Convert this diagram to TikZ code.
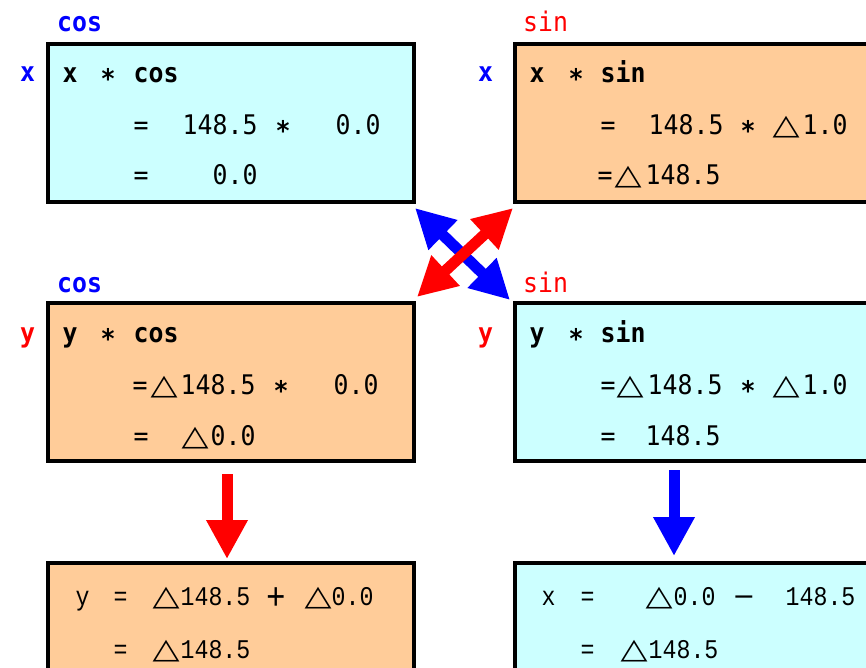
\documentclass[tikz,border=0pt]{standalone}
\usepackage{fontspec}
\usetikzlibrary{arrows.meta}
\newfontfamily\gfont[FakeStretch=0.92]{DejaVu Sans Mono}
\newfontfamily\lfont[FakeStretch=0.86]{Liberation Mono}
\newfontfamily\symfont{DejaVu Sans}
\definecolor{boxcyan}{HTML}{CCFFFF}
\definecolor{boxorange}{HTML}{FFCC99}
\newcommand\tk[2]{\rlap{\hspace*{#1pt}#2}}
\newcommand\tri{\scalebox{1.3}[1.05]{\symfont\bfseries △}}
\newcommand\trib{\scalebox{1.3}[1.05]{\symfont △}}
\newcommand\myast{\raisebox{-6pt}{\bfseries *}}
\newcommand\lowplus{\raisebox{-4pt}{\scalebox{1.4}{+}}}
\begin{document}
\begin{tikzpicture}[x=1pt,y=-1pt,
  boxbase/.style={draw=black, line width=4pt, anchor=north west, inner sep=0pt, outer sep=0pt},
  cbox/.style={boxbase, fill=boxcyan},
  obox/.style={boxbase, fill=boxorange},
  rowtxt/.style={anchor=base west, inner sep=0pt, font=\gfont\fontsize{27}{30}\selectfont},
  rowbold/.style={rowtxt, font=\gfont\bfseries\fontsize{27}{30}\selectfont},
  lowtxt/.style={anchor=base west, inner sep=0pt, font=\lfont\fontsize{27}{30}\selectfont},
  lblb/.style={anchor=base west, inner sep=0pt, text=blue, font=\gfont\bfseries\fontsize{27}{30}\selectfont},
  lblr/.style={anchor=base west, inner sep=0pt, text=red, font=\gfont\bfseries\fontsize{27}{30}\selectfont},
  lblrthin/.style={anchor=base west, inner sep=0pt, text=red, font=\gfont\fontsize{27}{30}\selectfont},
  dblarrow/.style={line width=11pt, {Triangle[length=39pt,width=39pt]}-{Triangle[length=39pt,width=39pt]}},
  onearrow/.style={line width=11pt, -{Triangle[length=39pt,width=39pt]}}
]
\path[use as bounding box, clip] (0,0) rectangle (866,668);

% boxes
\node[cbox, minimum width=366pt, minimum height=158pt] (tl) at (48,44) {};
\node[obox, minimum width=380pt, minimum height=158pt] (tr) at (515,44) {};
\node[obox, minimum width=366pt, minimum height=158pt] (ml) at (48,303) {};
\node[cbox, minimum width=380pt, minimum height=158pt] (mr) at (515,303) {};
\node[obox, minimum width=366pt, minimum height=140pt] (bl) at (48,563) {};
\node[cbox, minimum width=380pt, minimum height=140pt] (br) at (515,563) {};

% labels
\node[lblb] (lcos1) at (57,32) {cos};
\node[lblb] (lx1) at (20,82) {x};
\node[lblrthin] (lsin1) at (523,32) {sin};
\node[lblb] (lx2) at (478,82) {x};
\node[lblb] (lcos2) at (57,292) {cos};
\node[lblr] (ly1) at (20,342) {y};
\node[lblrthin] (lsin2) at (523,292) {sin};
\node[lblr] (ly2) at (478,342) {y};

% top-left
\node[rowbold] (tl1) at (62,83) {\tk{0}{x}\tk{38}{\myast}\tk{71}{cos}};
\node[rowtxt] (tl2) at (62,135) {\tk{71}{=}\tk{120}{148.5}\tk{213}{\myast}\tk{273}{0.0}};
\node[rowtxt] (tl3) at (62,185) {\tk{71}{=}\tk{150}{0.0}};

% top-right
\node[rowbold] (tr1) at (529,83) {\tk{0}{x}\tk{39}{\myast}\tk{71}{sin}};
\node[rowtxt] (tr2) at (529,135) {\tk{71}{=}\tk{119}{148.5}\tk{211}{\myast}\tk{243}{\tri}\tk{273}{1.0}};
\node[rowtxt] (tr3) at (529,185) {\tk{68}{=}\tk{85}{\tri}\tk{116}{148.5}};

% middle-left
\node[rowbold] (ml1) at (62,342) {\tk{0}{y}\tk{38}{\myast}\tk{71}{cos}};
\node[rowtxt] (ml2) at (62,394) {\tk{70}{=}\tk{88}{\tri}\tk{118}{148.5}\tk{211}{\myast}\tk{271}{0.0}};
\node[rowtxt] (ml3) at (62,445) {\tk{71}{=}\tk{119}{\tri}\tk{148}{0.0}};

% middle-right
\node[rowbold] (mr1) at (529,342) {\tk{0}{y}\tk{39}{\myast}\tk{71}{sin}};
\node[rowtxt] (mr2) at (529,394) {\tk{71}{=}\tk{87}{\tri}\tk{118}{148.5}\tk{211}{\myast}\tk{243}{\tri}\tk{273}{1.0}};
\node[rowtxt] (mr3) at (529,445) {\tk{71}{=}\tk{116}{148.5}};

% bottom-left
\node[lowtxt] (bl1) at (75,605) {\tk{0}{y}\tk{38}{=}\tk{77}{\trib}\tk{105}{148.5}\tk{191}{\lowplus}\tk{229}{\trib}\tk{256}{0.0}};
\node[lowtxt] (bl2) at (75,658) {\tk{38}{=}\tk{77}{\trib}\tk{105}{148.5}};

% bottom-right
\node[lowtxt] (br1) at (541,605) {\tk{0}{x}\tk{39}{=}\tk{104}{\trib}\tk{132}{0.0}\tk{191}{{\symfont −}}\tk{244}{148.5}};
\node[lowtxt] (br2) at (541,658) {\tk{39}{=}\tk{79}{\trib}\tk{107}{148.5}};

% arrow end points
\coordinate (bA) at (415,208);
\coordinate (bB) at (510,300);
\coordinate (rA) at (513,208);
\coordinate (rB) at (417,297);
\coordinate (vr1) at (227,474);
\coordinate (vr2) at (227,559);
\coordinate (vb1) at (674,470);
\coordinate (vb2) at (674,556);

\draw[dblarrow, blue] (bA) -- (bB);
\draw[dblarrow, red] (rA) -- (rB);
\draw[onearrow, red] (vr1) -- (vr2);
\draw[onearrow, blue] (vb1) -- (vb2);
\end{tikzpicture}
\end{document}
